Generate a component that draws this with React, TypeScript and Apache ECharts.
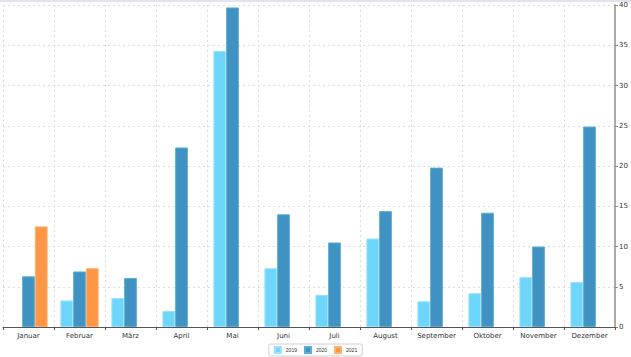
import React, { useEffect, useRef } from "react";
import * as echarts from "echarts";

const categories = ["Januar", "Februar", "März", "April", "Mai", "Juni", "Juli", "August", "September", "Oktober", "November", "Dezember"];
const values2019 = [null, 3.3, 3.6, 2.0, 34.3, 7.3, 4.0, 11.0, 3.2, 4.2, 6.2, 5.6];
const values2020 = [6.3, 6.9, 6.1, 22.3, 39.7, 14.0, 10.5, 14.4, 19.8, 14.2, 10.0, 24.9];
const values2021 = [12.5, 7.3, null, null, null, null, null, null, null, null, null, null];
const seriesNames = ["2019", "2020", "2021"];

export default function App() {
  const ref = useRef<HTMLDivElement>(null);
  useEffect(() => {
    if (!ref.current) return;
    const chart = echarts.init(ref.current, null, { renderer: "svg" });
    const mk = (name: string, data: (number | null)[], color: string, border: string) => ({
      name,
      type: "bar",
      data,
      barGap: "0%",
      barCategoryGap: "25%",
      itemStyle: { color, borderColor: border, borderWidth: 1 },
    });
    chart.setOption({
      animation: false,
      backgroundColor: "#ffffff",
      grid: { left: 3, right: 16, top: 5, bottom: 30 },
      legend: {
        bottom: 1,
        left: "center",
        data: seriesNames,
        itemWidth: 6,
        itemHeight: 6,
        itemGap: 7,
        padding: [2, 5],
        borderColor: "#d0d0d0",
        borderWidth: 1,
        borderRadius: 2,
        textStyle: { fontSize: 5, color: "#333", fontFamily: "Liberation Sans" },
        icon: "rect",
      },
      xAxis: {
        type: "category",
        data: categories,
        axisLine: { lineStyle: { color: "#555", width: 1, type: "solid" } },
        axisTick: { show: true, length: 3, lineStyle: { color: "#555" } },
        axisLabel: { fontSize: 7, color: "#333", margin: 5, fontFamily: "DejaVu Sans" },
        splitLine: { show: true, lineStyle: { color: "#dddddd", type: [2, 3] } },
      },
      yAxis: {
        type: "value",
        position: "right",
        min: 0,
        max: 40,
        interval: 5,
        axisLine: { show: true, lineStyle: { color: "#aaaaaa", width: 2 } },
        axisTick: { show: true, length: 3, lineStyle: { color: "#888" } },
        axisLabel: { fontSize: 7, color: "#333", margin: 4, fontFamily: "DejaVu Sans" },
        splitLine: { show: true, lineStyle: { color: "#dddddd", type: [2, 3] } },
      },
      series: [
        mk(seriesNames[0], values2019, "#6fd6fb", "#9be3fc"),
        mk(seriesNames[1], values2020, "#3f92c2", "#5aaed3"),
        mk(seriesNames[2], values2021, "#fd9745", "#fdb070"),
      ],
      graphic: [
        { type: "rect", shape: { x: 0, y: 0, width: 631, height: 2 }, style: { fill: "#e4e2ee" } },
      ],
    });
    return () => chart.dispose();
  }, []);
  return <div ref={ref} style={{ position: "fixed", left: 0, top: 0, width: 631, height: 357 }} />;
}
